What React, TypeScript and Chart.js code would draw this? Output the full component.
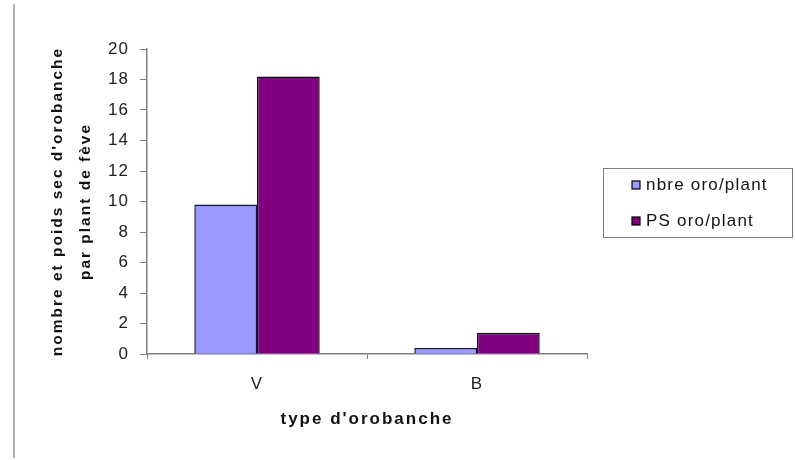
import React, { useEffect, useRef } from "react";
import { Chart, registerables } from "chart.js";

Chart.register(...registerables);

const categories = ["V", "B"];
const seriesNames = ["nbre oro/plant", "PS oro/plant"];
const nbreValues = [9.8, 0.4];
const psValues = [18.2, 1.4];
const yTicks = [0, 2, 4, 6, 8, 10, 12, 14, 16, 18, 20];
const yTitle = ["nombre et poids sec d'orobanche", "par plant de fève"];
const xTitle = "type d'orobanche";

const FONT = "'Liberation Sans', Arial, sans-serif";

const decorPlugin = {
  id: "decor",
  beforeDraw(chart: any) {
    const ctx = chart.ctx;
    ctx.save();
    ctx.strokeStyle = "#b0b0b0";
    ctx.lineWidth = 2;
    ctx.beginPath();
    ctx.moveTo(14, 4);
    ctx.lineTo(14, 458);
    ctx.stroke();
    ctx.restore();
    (ctx as any).letterSpacing = "2px";
  },
  afterDatasetsDraw(chart: any) {
    (chart.ctx as any).letterSpacing = "1px";
  },
  afterDraw(chart: any) {
    const ctx = chart.ctx;
    ctx.save();
    const bx = 603.5, by = 168.5, bw = 189, bh = 69;
    ctx.fillStyle = "#ffffff";
    ctx.fillRect(bx, by, bw, bh);
    ctx.strokeStyle = "#7a7a7a";
    ctx.lineWidth = 1;
    ctx.strokeRect(bx, by, bw, bh);
    (ctx as any).letterSpacing = "1.2px";
    ctx.font = `17px ${FONT}`;
    ctx.textBaseline = "middle";
    ctx.textAlign = "left";
    const ys = [185, 221];
    chart.data.datasets.forEach((ds: any, i: number) => {
      const y = ys[i];
      ctx.fillStyle = ds.backgroundColor;
      ctx.fillRect(632, y - 4, 8, 8);
      ctx.strokeStyle = "#000";
      ctx.lineWidth = 1.2;
      ctx.strokeRect(632, y - 4, 8, 8);
      ctx.fillStyle = "#111";
      ctx.fillText(ds.label, 646, y);
    });
    ctx.restore();
    (ctx as any).letterSpacing = "0px";
  },
};

export default function App() {
  const ref = useRef<HTMLCanvasElement>(null);
  useEffect(() => {
    document.body.style.margin = "0";
    const chart = new Chart(ref.current!, {
      type: "bar",
      data: {
        labels: categories,
        datasets: [
          {
            label: seriesNames[0],
            data: nbreValues,
            backgroundColor: "#9999ff",
            borderColor: "#10104a",
            borderWidth: 1.5,
          },
          {
            label: seriesNames[1],
            data: psValues,
            backgroundColor: "#800080",
            borderColor: "#1a001a",
            borderWidth: 1.5,
          },
        ],
      },
      options: {
        responsive: false,
        animation: false,
        layout: { padding: { left: 44, right: 208, top: 49, bottom: 25 } },
        plugins: { legend: { display: false }, tooltip: { enabled: false } },
        datasets: { bar: { categoryPercentage: 0.57, barPercentage: 1 } },
        scales: {
          x: {
            grid: { drawOnChartArea: false, tickLength: 5, color: "#808080", offset: true },
            border: { color: "#808080", width: 1.5 },
            ticks: { z: 1, color: "#222", font: { family: FONT, size: 17 }, padding: 15 },
            title: {
              display: true,
              text: xTitle,
              color: "#111",
              font: { family: FONT, size: 17, weight: "bold" },
              padding: { top: 0, bottom: 5 },
            },
            afterFit: (s: any) => {
              s.height = 81;
            },
          },
          y: {
            min: 0,
            max: 20,
            afterBuildTicks: (s: any) => {
              s.ticks = yTicks.map((v) => ({ value: v }));
            },
            grid: { drawOnChartArea: false, tickLength: 7, color: "#808080" },
            border: { color: "#808080", width: 1.5 },
            ticks: { z: 1, color: "#222", font: { family: FONT, size: 17 }, padding: 11 },
            title: {
              display: true,
              text: yTitle,
              color: "#111",
              font: { family: FONT, size: 15.5, weight: "bold", lineHeight: 1.8 },
              padding: { top: 0, bottom: 0 },
            },
            afterFit: (s: any) => {
              s.width = 103;
            },
          },
        },
      },
      plugins: [decorPlugin],
    } as any);
    return () => chart.destroy();
  }, []);
  return <canvas ref={ref} width={795} height={460} style={{ display: "block" }} />;
}
